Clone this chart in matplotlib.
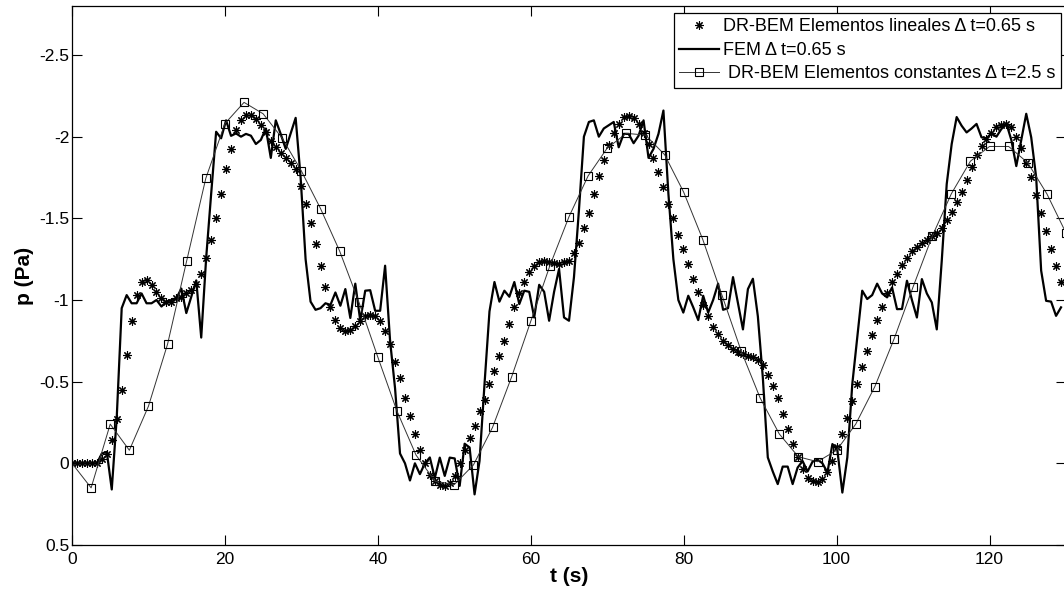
import numpy as np
import matplotlib.pyplot as plt
import matplotlib.ticker as ticker

plt.rcParams['font.family'] = ['Liberation Sans', 'DejaVu Sans']

# DR-BEM linear elements, dt = 0.65 s (200 samples)
dt_lin = 0.65
p_lin = [
    0, 0, 0, 0, 0, 0, -0.025, -0.06, -0.14, -0.27,
    -0.45, -0.665, -0.87, -1.03, -1.11, -1.12, -1.09, -1.05, -1.01, -0.99,
    -0.99, -1.01, -1.02, -1.04, -1.06, -1.10, -1.16, -1.26, -1.37, -1.50,
    -1.65, -1.80, -1.925, -2.04, -2.10, -2.135, -2.13, -2.11, -2.07, -2.03,
    -1.975, -1.935, -1.90, -1.87, -1.84, -1.80, -1.70, -1.59, -1.47, -1.34,
    -1.21, -1.08, -0.96, -0.88, -0.83, -0.81, -0.815, -0.84, -0.87, -0.90,
    -0.91, -0.90, -0.87, -0.81, -0.73, -0.62, -0.52, -0.40, -0.29, -0.18,
    -0.08, 0.0, 0.07, 0.11, 0.135, 0.14, 0.12, 0.08, 0.0, -0.08,
    -0.155, -0.23, -0.32, -0.39, -0.485, -0.565, -0.66, -0.75, -0.855, -0.955,
    -1.04, -1.11, -1.17, -1.21, -1.235, -1.24, -1.235, -1.225, -1.22, -1.23,
    -1.24, -1.29, -1.35, -1.44, -1.535, -1.65, -1.757, -1.86, -1.95, -2.02,
    -2.08, -2.12, -2.125, -2.115, -2.08, -2.02, -1.955, -1.87, -1.785, -1.69,
    -1.59, -1.50, -1.40, -1.31, -1.22, -1.13, -1.046, -0.97, -0.90, -0.835,
    -0.79, -0.75, -0.724, -0.70, -0.68, -0.67, -0.66, -0.65, -0.63, -0.60,
    -0.54, -0.475, -0.40, -0.305, -0.21, -0.12, -0.04, 0.036, 0.087, 0.11,
    0.117, 0.097, 0.05, -0.015, -0.097, -0.18, -0.28, -0.38, -0.485, -0.59,
    -0.69, -0.787, -0.877, -0.96, -1.04, -1.11, -1.16, -1.216, -1.26, -1.30,
    -1.326, -1.35, -1.37, -1.39, -1.41, -1.44, -1.49, -1.54, -1.60, -1.66,
    -1.735, -1.816, -1.89, -1.945, -1.985, -2.02, -2.06, -2.07, -2.08, -2.06,
    -2.0, -1.93, -1.84, -1.75, -1.64, -1.53, -1.42, -1.31, -1.21, -1.11,
]

# FEM, dt = 0.65 s (200 samples)
p_fem = [
    0, 0, 0, 0, 0, 0, -0.06, -0.07, 0.16, -0.28,
    -0.95, -1.03, -0.98, -0.98, -1.04, -0.98, -0.98, -1.0, -0.96, -0.99,
    -1.0, -1.01, -1.07, -0.92, -1.02, -1.12, -0.77, -1.26, -1.65, -2.03,
    -1.99, -2.10, -2.005, -2.02, -2.0, -2.017, -2.006, -1.955, -1.98, -2.05,
    -1.87, -2.10, -2.016, -1.925, -2.02, -2.115, -1.75, -1.25, -0.99, -0.94,
    -0.95, -0.98, -0.97, -1.046, -0.965, -1.067, -0.89, -1.10, -0.873, -1.057,
    -1.06, -0.934, -0.934, -1.21, -0.75, -0.46, -0.06, 0.0, 0.105, 0.0,
    0.066, 0.0, -0.036, 0.09, -0.035, 0.077, -0.035, -0.03, 0.138, -0.12,
    -0.097, 0.19, -0.015, -0.485, -0.93, -1.11, -0.99, -1.057, -1.02, -1.11,
    -0.975, -1.057, -1.05, -0.893, -1.093, -1.05, -0.873, -1.05, -1.19, -0.893,
    -0.873, -1.14, -1.55, -2.0, -2.09, -2.10, -2.0, -2.05, -2.07, -2.09,
    -1.935, -2.017, -2.017, -1.96, -2.006, -2.10, -1.87, -1.925, -2.017, -2.16,
    -1.65, -1.25, -1.0, -0.923, -1.026, -0.955, -0.877, -1.026, -0.923, -1.0,
    -1.10, -0.94, -0.95, -1.14, -0.98, -0.82, -1.067, -1.13, -0.9, -0.525,
    -0.036, 0.05, 0.127, 0.02, 0.02, 0.127, 0.026, -0.014, 0.05, -0.01,
    -0.023, 0.0, 0.056, -0.118, -0.08, 0.179, -0.036, -0.485, -0.77, -1.057,
    -1.006, -1.03, -1.10, -1.04, -1.016, -1.077, -0.944, -0.945, -1.118, -1.0,
    -0.893, -1.128, -1.04, -0.985, -0.82, -1.24, -1.71, -1.955, -2.12, -2.067,
    -2.026, -2.05, -2.078, -1.996, -1.99, -2.02, -2.0, -2.047, -2.08, -1.98,
    -1.82, -1.98, -2.14, -1.996, -1.75, -1.18, -0.995, -0.99, -0.903, -0.955,
]

# DR-BEM constant elements, dt = 2.5 s (53 samples)
dt_const = 2.5
p_const = [
    0, 0.15, -0.24, -0.08, -0.35, -0.73, -1.24, -1.745, -2.08, -2.21,
    -2.14, -1.99, -1.79, -1.56, -1.30, -0.99, -0.65, -0.32, -0.05, 0.11,
    0.13, 0.01, -0.22, -0.53, -0.87, -1.21, -1.51, -1.76, -1.93, -2.02,
    -2.01, -1.89, -1.66, -1.37, -1.03, -0.69, -0.40, -0.18, -0.04, -0.01,
    -0.08, -0.24, -0.47, -0.76, -1.08, -1.39, -1.65, -1.85, -1.94, -1.94,
    -1.84, -1.65, -1.41,
]

labels = ['DR-BEM Elementos lineales \u0394 t=0.65 s',
          'FEM \u0394 t=0.65 s',
          ' DR-BEM Elementos constantes \u0394 t=2.5 s']

t_lin = np.arange(len(p_lin)) * dt_lin
t_fem = np.arange(len(p_fem)) * dt_lin
t_const = np.arange(len(p_const)) * dt_const

fig = plt.figure(figsize=(10.64, 5.96), dpi=100)
ax = fig.add_axes([72 / 1064, 51 / 596, 994 / 1064, 539 / 596])

ax.plot(t_lin, p_lin, linestyle='none', marker=(8, 2, 0), markersize=6,
        markeredgewidth=0.8, color='black', label=labels[0])
ax.plot(t_fem, p_fem, color='black', linewidth=1.6, label=labels[1])
ax.plot(t_const, p_const, color='#333333', linewidth=0.7, marker='s',
        markersize=5.5, markerfacecolor='none', markeredgecolor='black',
        markeredgewidth=0.8, markevery=slice(1, None), label=labels[2])

ax.set_xlim(0, 130)
ax.set_ylim(0.5, -2.8)
ax.set_xticks([0, 20, 40, 60, 80, 100, 120])
ax.set_yticks([0.5, 0, -0.5, -1, -1.5, -2, -2.5])
ax.yaxis.set_major_formatter(ticker.FuncFormatter(lambda v, pos: '%g' % v))
ax.tick_params(direction='in', length=7, width=0.8, top=True, right=True,
               labelsize=12.5, colors='black')
ax.tick_params(axis='x', pad=5)
ax.tick_params(axis='y', pad=2)
for s in ax.spines.values():
    s.set_linewidth(0.9)

ax.set_xlabel('t (s)', fontsize=15, fontweight='bold', labelpad=0)
ax.set_ylabel('p (Pa)', fontsize=15, fontweight='bold', labelpad=4)

leg = ax.legend(loc='upper right', bbox_to_anchor=(1061 / 1064, 1 - 13 / 596),
                bbox_transform=fig.transFigure, fontsize=13, frameon=True,
                fancybox=False, framealpha=1, edgecolor='black',
                handlelength=2.2, handletextpad=0.25, labelspacing=0.36,
                borderpad=0.3, borderaxespad=0)
leg.get_frame().set_linewidth(0.9)

fig.savefig('out.png', dpi=100)
